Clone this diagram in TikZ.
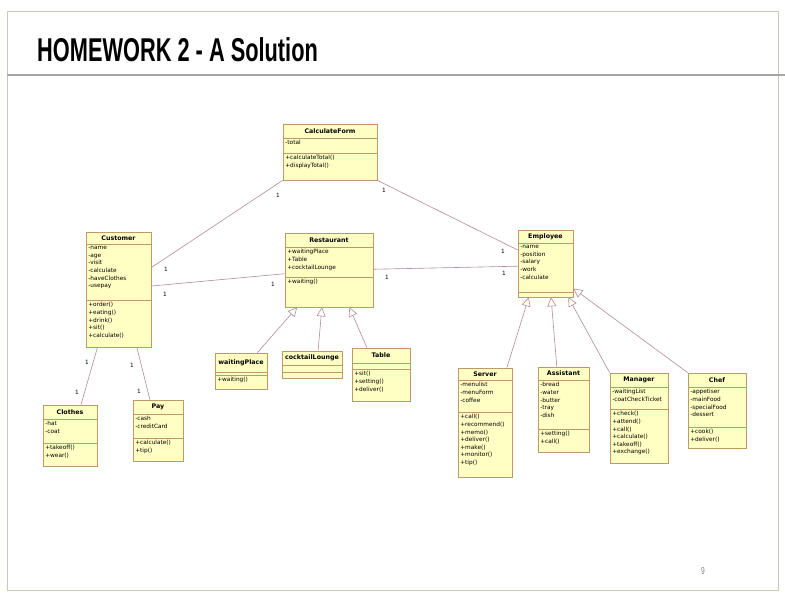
\documentclass[tikz,border=0pt]{standalone}
\usepackage{fontspec}
\setmainfont{DejaVu Sans}
\newfontfamily\slidefont[FakeStretch=0.66]{Liberation Sans}
\usetikzlibrary{arrows.meta,positioning,calc,fit}

\definecolor{clsfill}{HTML}{FFFFC4}
\definecolor{clsedge}{HTML}{C09A66}
\definecolor{assoccol}{HTML}{B48C96}
\definecolor{framecol}{HTML}{C8C8B8}

% class box: name, (left,top), (right,bottom), title rule y, attribute rule y, name, attributes, operations
\newcommand{\umlclass}[8]{%
  \node[cls, fit={(#2) (#3)}] (#1) {};
  \draw[clsrule] (#1.west |- 0,#4) -- (#1.east |- 0,#4);
  \draw[clsrule] (#1.west |- 0,#5) -- (#1.east |- 0,#5);
  \node[clsname] (#1-n) at ($(#1.north)!.5!(#1.north |- 0,#4)$) {#6};
  \node[clstext] (#1-a) at (#1.west |- 0,#4) {#7};
  \node[clstext] (#1-o) at (#1.west |- 0,#5) {#8};
}

\begin{document}
\begin{tikzpicture}[
  x=1pt, y=-1pt,
  cls/.style={draw=clsedge, fill=clsfill, inner sep=0pt, line width=0.7pt},
  clsrule/.style={draw=clsedge, line width=0.7pt},
  clsname/.style={font=\fontsize{6.3}{7.6}\selectfont\bfseries, inner sep=0pt},
  clstext/.style={anchor=north west, align=left, inner xsep=2.5pt, inner ysep=2.3pt, font=\fontsize{5.8}{7.6}\selectfont},
  mult/.style={font=\fontsize{5.8}{7}\selectfont, inner sep=0pt},
  assoc/.style={draw=assoccol, line width=0.6pt},
  gen/.style={draw=assoccol, line width=0.6pt, -{Triangle[open, length=9pt, width=9pt]}}
]
  \fill[white] (0,0) rectangle (785,595);
  \useasboundingbox (0,0) rectangle (785,595);

  % slide frame and title
  \draw[framecol, line width=0.8pt] (7,11) rectangle (778,590);
  \draw[gray!70, line width=1.5pt] (7,75) -- (785,75);
  \node[anchor=base west, inner sep=0pt, font=\slidefont\bfseries\fontsize{33}{36}\selectfont] (title) at (37,61) {HOMEWORK 2 - A Solution};
  \node[font=\slidefont\fontsize{10}{12}\selectfont, text=gray] (pagenum) at (703,571) {9};

  % classes
  \umlclass{cform}{283,124}{377,180}{138}{153}{CalculateForm}{-total}{+calculateTotal()\\+displayTotal()}
  \umlclass{cust}{86,232}{151,347}{244}{300}{Customer}{-name\\-age\\-visit\\-calculate\\-haveClothes\\-usepay}{+order()\\+eating()\\+drink()\\+sit()\\+calculate()}
  \umlclass{rest}{285,233}{373,307}{247}{277}{Restaurant}{+waitingPlace\\+Table\\+cocktailLounge}{+waiting()}
  \umlclass{emp}{518,230}{573,297}{243}{292}{Employee}{-name\\-position\\-salary\\-work\\-calculate}{}
  \umlclass{clothes}{43,405}{97,466}{419}{443}{Clothes}{-hat\\-coat}{+takeoff()\\+wear()}
  \umlclass{pay}{133,400}{183,461}{414}{438}{Pay}{-cash\\-creditCard}{+calculate()\\+tip()}
  \umlclass{wplace}{215,353}{267,389}{372}{375}{waitingPlace}{}{+waiting()}
  \umlclass{clounge}{282,351}{342,378}{365}{372}{cocktailLounge}{}{}
  \umlclass{table}{352,348}{410,401}{363}{369}{Table}{}{+sit()\\+setting()\\+deliver()}
  \umlclass{server}{458,368}{512,477}{380}{412}{Server}{-menulist\\-menuForm\\-coffee}{+call()\\+recommend()\\+memo()\\+deliver()\\+make()\\+monitor()\\+tip()}
  \umlclass{asst}{538,367}{589,452}{380}{429}{Assistant}{-bread\\-water\\-butter\\-tray\\-dish}{+setting()\\+call()}
  \umlclass{mgr}{610,373}{668,463}{387}{409}{Manager}{-waitingList\\-coatCheckTicket}{+check()\\+attend()\\+call()\\+calculate()\\+takeoff()\\+exchange()}
  \umlclass{chef}{688,373}{746,448}{387}{427}{Chef}{-appetiser\\-mainFood\\-specialFood\\-dessert}{+cook()\\+deliver()}

  % associations
  \draw[assoc] (cform.south west) -- ($(cust.north east)!.31!(cust.south east)$);
  \draw[assoc] (cform.south east) -- ($(emp.north west)!.3!(emp.south west)$);
  \draw[assoc] ($(cust.north east)!.47!(cust.south east)$) -- ($(rest.north west)!.55!(rest.south west)$);
  \draw[assoc] ($(rest.north east)!.49!(rest.south east)$) -- ($(emp.north west)!.54!(emp.south west)$);
  \draw[assoc] ($(cust.south west)!.18!(cust.south east)$) -- ($(clothes.north west)!.7!(clothes.north east)$);
  \draw[assoc] ($(cust.south west)!.78!(cust.south east)$) -- ($(pay.north west)!.34!(pay.north east)$);

  % multiplicities
  \node[mult] (m1) at (278,195) {1};
  \node[mult] (m2) at (166,269) {1};
  \node[mult] (m3) at (384,190) {1};
  \node[mult] (m4) at (503,251) {1};
  \node[mult] (m5) at (165,294) {1};
  \node[mult] (m6) at (273,284) {1};
  \node[mult] (m7) at (387,277) {1};
  \node[mult] (m8) at (504,273) {1};
  \node[mult] (m9) at (87,362) {1};
  \node[mult] (m10) at (77,392) {1};
  \node[mult] (m11) at (132,365) {1};
  \node[mult] (m12) at (139,391) {1};

  % generalizations
  \draw[gen] ($(wplace.north west)!.81!(wplace.north east)$) -- ($(rest.south west)!.14!(rest.south east)$);
  \draw[gen] ($(clounge.north west)!.6!(clounge.north east)$) -- ($(rest.south west)!.42!(rest.south east)$);
  \draw[gen] ($(table.north west)!.26!(table.north east)$) -- ($(rest.south west)!.73!(rest.south east)$);
  \draw[gen] ($(server.north west)!.9!(server.north east)$) -- ($(emp.south west)!.2!(emp.south east)$);
  \draw[gen] ($(asst.north west)!.37!(asst.north east)$) -- ($(emp.south west)!.6!(emp.south east)$);
  \draw[gen] (mgr.north west) -- ($(emp.south west)!.91!(emp.south east)$);
  \draw[gen] (chef.north west) -- ($(emp.north east)!.87!(emp.south east)$);
\end{tikzpicture}
\end{document}
